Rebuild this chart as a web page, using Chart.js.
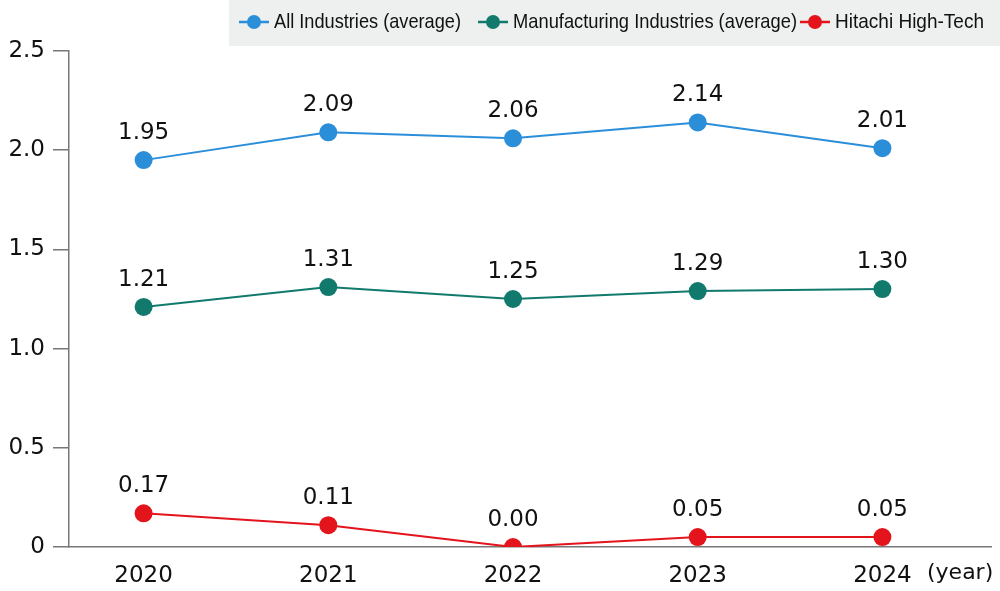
<!DOCTYPE html>
<html>
<head>
<meta charset="utf-8">
<script src="https://cdn.jsdelivr.net/npm/chart.js@4"></script>
<style>
  body { margin: 0; background: #fff; }
  #wrap { width: 1000px; height: 591px; position: relative; }
</style>
</head>
<body>
<div id="wrap"><canvas id="chart"></canvas></div>
<script>
const years = [2020, 2021, 2022, 2023, 2024];
const allIndustries = [1.95, 2.09, 2.06, 2.14, 2.01];
const manufacturing = [1.21, 1.31, 1.25, 1.29, 1.30];
const hitachi = [0.17, 0.11, 0.00, 0.05, 0.05];
const seriesNames = ['All Industries (average)', 'Manufacturing Industries (average)', 'Hitachi High-Tech'];
const seriesColors = ['#2b8ed9', '#117a6d', '#e3141c'];

function toPoints(values) {
    return years.map((y, i) => ({ x: y, y: values[i] }));
}

const valueLabels = {
    id: 'valueLabels',
    afterDatasetsDraw(chart) {
        const ctx = chart.ctx;
        ctx.save();
        ctx.font = '23px "DejaVu Sans", "Noto Sans", sans-serif';
        ctx.fillStyle = '#111';
        ctx.textAlign = 'center';
        ctx.textBaseline = 'middle';
        chart.data.datasets.forEach((ds, di) => {
            chart.getDatasetMeta(di).data.forEach((pt, i) => {
                ctx.fillText(ds.data[i].y.toFixed(2), pt.x, pt.y - 27);
            });
        });
        // unit label at the right of the x axis
        ctx.textAlign = 'left';
        ctx.font = '22px "DejaVu Sans", "Noto Sans", sans-serif';
        ctx.fillText('(year)', 927, 573);
        ctx.restore();
    }
};

const legendBox = {
    id: 'legendBox',
    afterDraw(chart) {
        const ctx = chart.ctx;
        ctx.save();
        ctx.fillStyle = '#eef0ef';
        ctx.fillRect(229, 0, 771, 46);
        ctx.font = '21px "Liberation Sans", sans-serif';
        ctx.textBaseline = 'middle';
        const starts = [239, 478, 800];
        const y = 22;
        seriesNames.forEach((name, i) => {
            const x = starts[i];
            const w = ctx.measureText(name).width;
            const target = [187, 284, 149][i];
            ctx.strokeStyle = seriesColors[i];
            ctx.fillStyle = seriesColors[i];
            ctx.lineWidth = 2.5;
            ctx.beginPath();
            ctx.moveTo(x, y);
            ctx.lineTo(x + 30, y);
            ctx.stroke();
            ctx.beginPath();
            ctx.arc(x + 15, y, 7, 0, Math.PI * 2);
            ctx.fill();
            ctx.fillStyle = '#111';
            ctx.save();
            ctx.translate(x + 35, y);
            ctx.scale(target / w, 1);
            ctx.fillText(name, 0, 0);
            ctx.restore();
        });
        ctx.restore();
    }
};

new Chart(document.getElementById('chart'), {
    type: 'line',
    data: {
        datasets: [0, 1, 2].map(i => ({
            label: seriesNames[i],
            data: toPoints([allIndustries, manufacturing, hitachi][i]),
            borderColor: seriesColors[i],
            backgroundColor: seriesColors[i],
            borderWidth: 2,
            pointRadius: 9,
            pointHoverRadius: 9,
            pointBorderWidth: 0
        }))
    },
    options: {
        responsive: true,
        maintainAspectRatio: false,
        animation: false,
        layout: { padding: { top: 51, right: 5, left: 0, bottom: 0 } },
        plugins: { legend: { display: false }, tooltip: { enabled: false } },
        scales: {
            x: {
                type: 'linear',
                min: 2019.596,
                max: 2024.588,
                afterBuildTicks: s => { s.ticks = years.map(v => ({ value: v })); },
                afterFit: s => { s.height = 44; },
                grid: { display: false },
                border: { color: '#777', width: 1.5 },
                ticks: {
                    color: '#111',
                    font: { size: 23, family: '"DejaVu Sans", "Noto Sans", sans-serif' },
                    padding: 7,
                    callback: v => String(v)
                }
            },
            y: {
                min: 0,
                max: 2.5,
                afterFit: s => { s.width = 69; },
                grid: { drawOnChartArea: false, tickLength: 16, color: '#777', lineWidth: 1.5 },
                border: { color: '#777', width: 1.5 },
                ticks: {
                    stepSize: 0.5,
                    color: '#111',
                    padding: 8,
                    font: { size: 23, family: '"DejaVu Sans", "Noto Sans", sans-serif' },
                    callback: v => v === 0 ? '0' : v.toFixed(1)
                }
            }
        }
    },
    plugins: [valueLabels, legendBox]
});
</script>
</body>
</html>
